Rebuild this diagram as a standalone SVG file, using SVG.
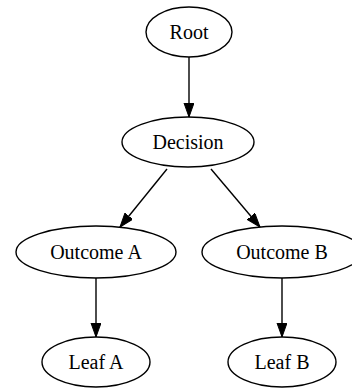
<svg xmlns="http://www.w3.org/2000/svg" width="352" height="389" viewBox="0 0 352 389">
<defs>
<style>
.node ellipse{fill:#fff;stroke:#000;stroke-width:1.4}
.node text{font-family:"Liberation Serif","Times New Roman",serif;font-size:20px;fill:#000;text-anchor:middle}
.edge{fill:none;stroke:#000;stroke-width:1.4;marker-end:url(#arr)}
</style>
<marker id="arr" markerUnits="userSpaceOnUse" markerWidth="16" markerHeight="12" refX="14" refY="5" orient="auto">
<path d="M0,0 L14,5 L0,10 Z" fill="#000" stroke="#000" stroke-width="1"/>
</marker>
</defs>
<rect width="352" height="389" fill="#fff"/>
<g id="connectors">
<path class="edge" d="M189,57 L189,117"/>
<path class="edge" d="M167,169 L120,227"/>
<path class="edge" d="M211,169 L260,227"/>
<path class="edge" d="M96,278 L96,337"/>
<path class="edge" d="M282,278 L282,337"/>
</g>
<g id="root" class="node"><ellipse cx="189" cy="32" rx="43" ry="25"/><text x="189" y="39">Root</text></g>
<g id="decision" class="node"><ellipse cx="188" cy="142" rx="66" ry="25"/><text x="188" y="149">Decision</text></g>
<g id="outcomeA" class="node"><ellipse cx="96" cy="252" rx="80" ry="26"/><text x="96" y="259">Outcome A</text></g>
<g id="outcomeB" class="node"><ellipse cx="282" cy="252" rx="80" ry="26"/><text x="282" y="259">Outcome B</text></g>
<g id="leafA" class="node"><ellipse cx="96" cy="362" rx="54" ry="25"/><text x="96" y="369">Leaf A</text></g>
<g id="leafB" class="node"><ellipse cx="282" cy="362" rx="54" ry="25"/><text x="282" y="369">Leaf B</text></g>
</svg>
